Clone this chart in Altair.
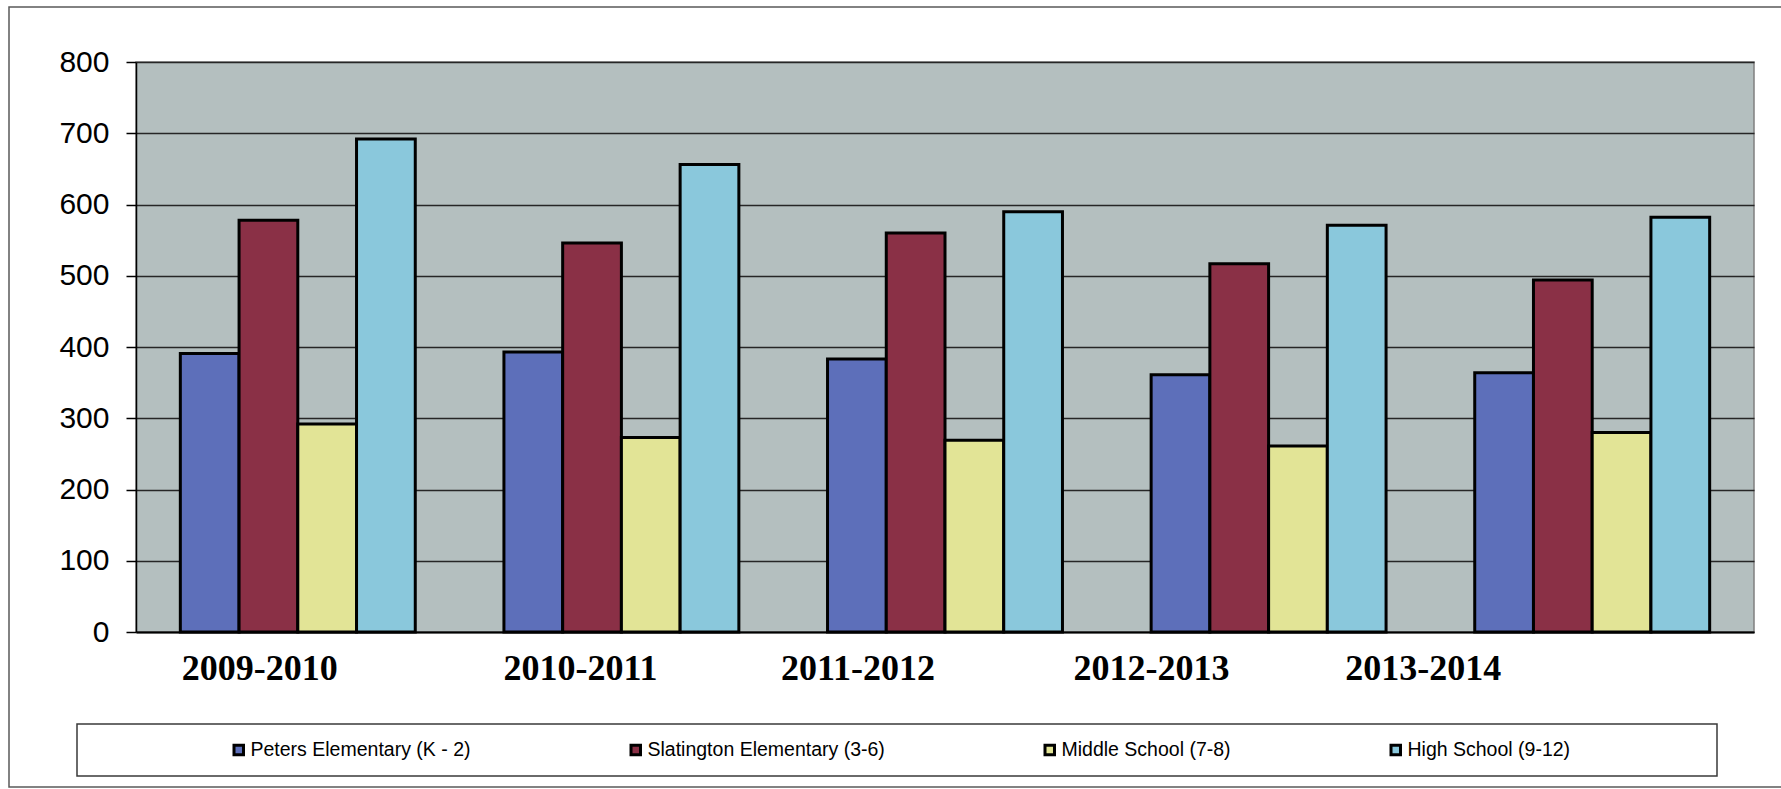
import altair as alt
import pandas as pd

# Enrollment by school year
years = ["2009-2010", "2010-2011", "2011-2012", "2012-2013", "2013-2014"]
schools = [
    "Peters Elementary (K - 2)",
    "Slatington Elementary (3-6)",
    "Middle School (7-8)",
    "High School (9-12)",
]
peters = [391, 393, 383, 361, 364]
slatington = [578, 546, 560, 517, 494]
middle = [292, 273, 269, 261, 280]
high = [692, 656, 590, 571, 582]
y_ticks = [0, 100, 200, 300, 400, 500, 600, 700, 800]

school_colors = ["#5d6fba", "#8a3046", "#e2e496", "#8ac8dc"]

rows = []
for school, series in zip(schools, [peters, slatington, middle, high]):
    for year, count in zip(years, series):
        rows.append({"year": year, "school": school, "students": count})
df = pd.DataFrame(rows)

# canvas layout (pixels)
W, H = 1618, 570
PAD_L, PAD_T, PAD_R, PAD_B = 136, 62, 27, 157

# year labels sit somewhat left of their bar groups
label_shift = [-38, -41, -87, -117, -169]
label_offset_rule = {
    "condition": [
        {"test": f"datum.value === '{yr}'", "value": s}
        for yr, s in zip(years, label_shift)
    ],
    "value": 0,
}

bars = alt.Chart(df).mark_bar(stroke="black", strokeWidth=3, opacity=1).encode(
    x=alt.X(
        "year:N",
        sort=years,
        scale=alt.Scale(paddingInner=0.274, paddingOuter=0.137),
        axis=alt.Axis(
            title=None,
            labelFont="Liberation Serif",
            labelFontWeight="bold",
            labelFontSize=36,
            labelColor="black",
            labelAngle=0,
            ticks=False,
            tickSize=0,
            labelPadding=19,
            labelBaseline="top",
            domainColor="black",
            domainWidth=2,
            grid=False,
            labelOffset=label_offset_rule,
        ),
    ),
    xOffset=alt.XOffset(
        "school:N", sort=schools, scale=alt.Scale(paddingInner=0, paddingOuter=0)
    ),
    y=alt.Y(
        "students:Q",
        scale=alt.Scale(domain=[0, 800], nice=False),
        axis=alt.Axis(
            title=None,
            values=y_ticks,
            grid=True,
            gridColor="#262626",
            gridWidth=1.5,
            domainColor="black",
            domainWidth=1.5,
            tickColor="black",
            tickWidth=1.5,
            tickSize=10,
            labelFont="Liberation Sans",
            labelFontSize=30,
            labelColor="black",
            labelPadding=17,
        ),
    ),
    color=alt.Color(
        "school:N",
        sort=schools,
        scale=alt.Scale(domain=schools, range=school_colors),
        legend=alt.Legend(
            title=None,
            orient="none",
            direction="horizontal",
            legendX=93,
            legendY=678,
            symbolType="square",
            symbolSize=90,
            symbolStrokeColor="black",
            symbolStrokeWidth=3,
            symbolOpacity=1,
            labelFont="Liberation Sans",
            labelFontSize=19.5,
            labelColor="black",
            labelLimit=400,
            labelOffset=2,
            columnPadding=154,
            padding=0,
        ),
    ),
)

one_row = pd.DataFrame({"k": [0]})

# outer frame around the whole figure
frame = alt.Chart(one_row).mark_rect(
    fillOpacity=0, stroke="#5a5a5a", strokeWidth=1.5
).encode(
    x=alt.value(9 - PAD_L),
    x2=alt.value(1781 - PAD_L + 20),
    y=alt.value(7 - PAD_T),
    y2=alt.value(787 - PAD_T),
)

# box drawn around the legend
legend_box = alt.Chart(one_row).mark_rect(
    fill="white", stroke="#3a3a3a", strokeWidth=1.5
).encode(
    x=alt.value(77 - PAD_L),
    x2=alt.value(1717 - PAD_L),
    y=alt.value(724 - PAD_T),
    y2=alt.value(776 - PAD_T),
)

chart = (
    alt.layer(frame, legend_box, bars)
    .properties(
        width=W,
        height=H,
        autosize=alt.AutoSizeParams(type="none"),
        padding={"left": PAD_L, "top": PAD_T, "right": PAD_R, "bottom": PAD_B},
        background="white",
    )
    .configure_view(fill="#b4bfbf", stroke="#808080", strokeWidth=1.5)
)

chart.save("out.html", embed_options={"renderer": "svg", "actions": False})
